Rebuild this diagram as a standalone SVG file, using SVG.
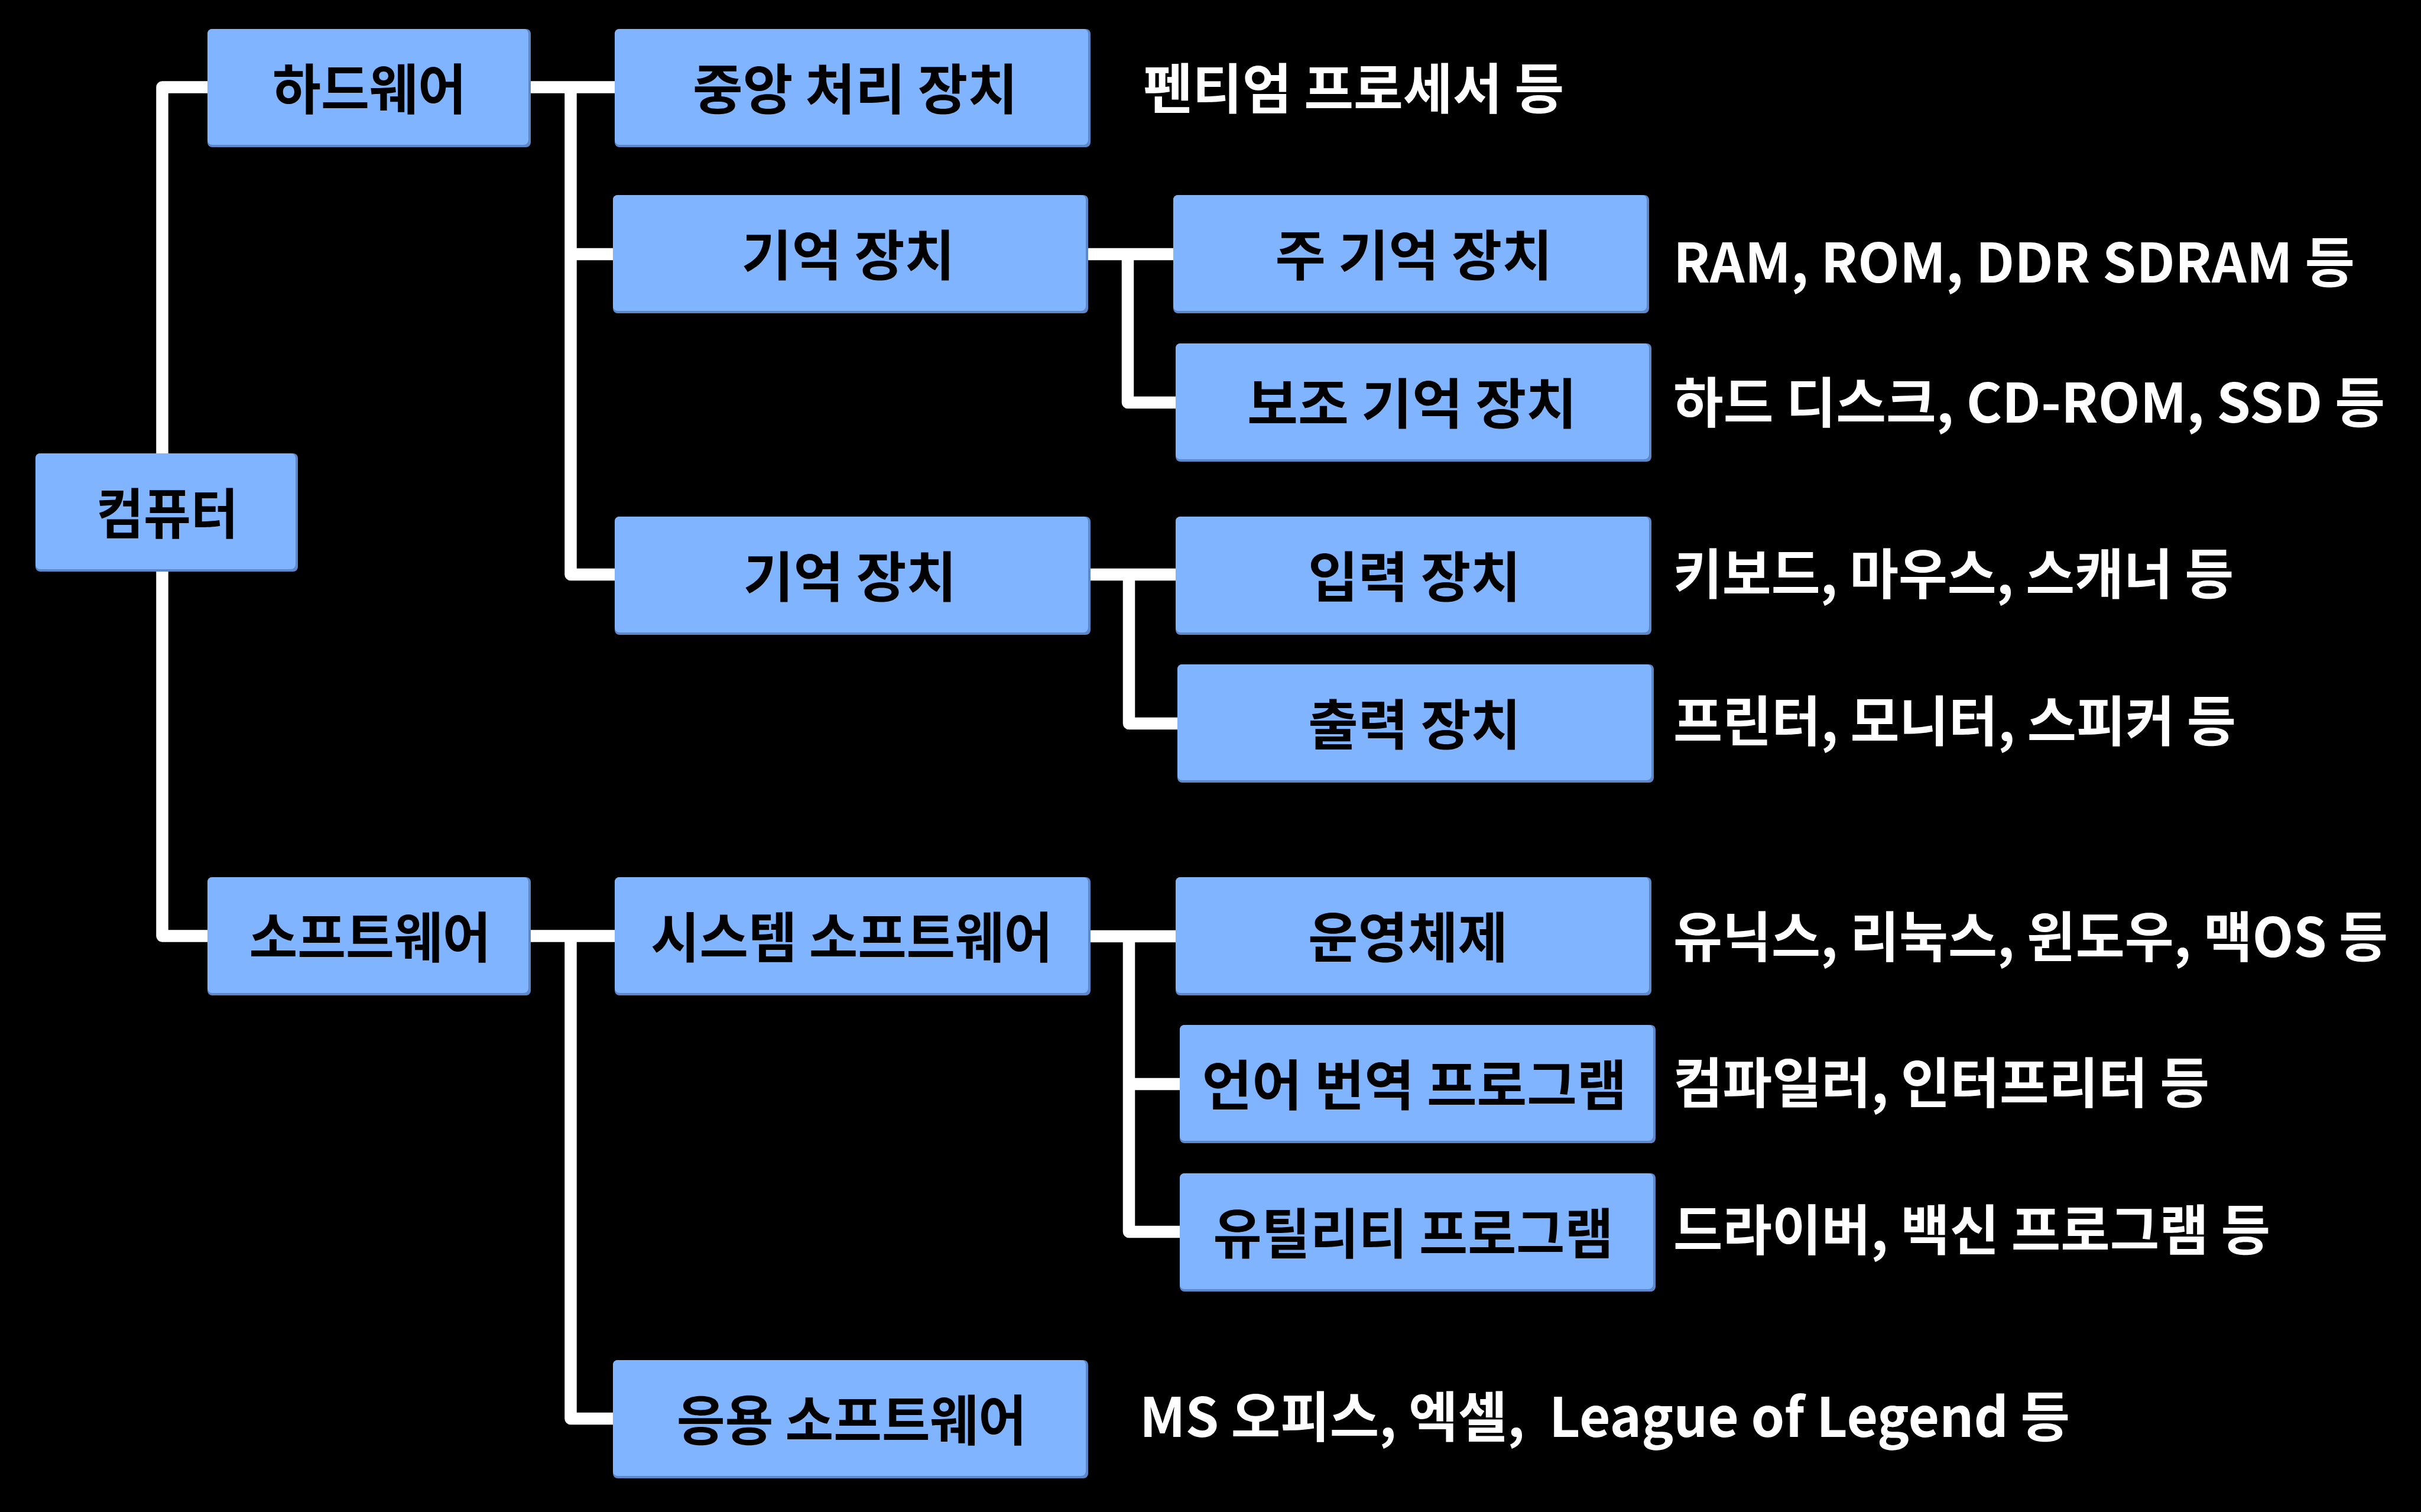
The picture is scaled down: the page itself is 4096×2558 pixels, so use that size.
<svg xmlns="http://www.w3.org/2000/svg" width="4096" height="2558" viewBox="0 0 4096 2558">
<style>
.bg{fill:#000000}
.base{fill:#5D87C6}
.face{fill:#80B4FF}
.conn{fill:none;stroke:#FFFFFF;stroke-width:20.5;stroke-linejoin:round;stroke-linecap:round}
.lbl{font-family:"Noto Sans CJK KR","Noto Sans",sans-serif;font-weight:700;font-size:92px;fill:#000000;text-anchor:middle}
.out{font-family:"Noto Sans CJK KR","Noto Sans",sans-serif;font-weight:700;font-size:92px;fill:#FFFFFF}
</style>
<rect class="bg" x="0" y="0" width="4096" height="2558"/>
<g id="connectors">
<path class="conn" d="M351 147.5 H274.5 V1583.5 H351"/>
<path class="conn" d="M898 147.5 H1040 M965.5 147.5 V972 H1040 M965.5 430 H1037"/>
<path class="conn" d="M1841 430 H1985 M1908 430 V681 H1989"/>
<path class="conn" d="M1845 972 H1989 M1910 972 V1224 H1992"/>
<path class="conn" d="M898 1583.5 H1040 M965.5 1583.5 V2400 H1037"/>
<path class="conn" d="M1845 1584 H1989 M1910 1584 V2084 H1996 M1910 1834 H1996"/>
</g>
<g id="n-computer"><rect class="base" x="60" y="767" width="444" height="200" rx="8"/><rect class="face" x="60" y="767" width="440" height="196" rx="8"/><text class="lbl" x="283" y="903" textLength="240" lengthAdjust="spacingAndGlyphs">컴퓨터</text></g>
<g id="n-hardware"><rect class="base" x="351" y="49" width="547" height="200" rx="8"/><rect class="face" x="351" y="49" width="543" height="196" rx="8"/><text class="lbl" x="625" y="185" textLength="328" lengthAdjust="spacingAndGlyphs">하드웨어</text></g>
<g id="n-software"><rect class="base" x="351" y="1484" width="547" height="200" rx="8"/><rect class="face" x="351" y="1484" width="543" height="196" rx="8"/><text class="lbl" x="626" y="1620" textLength="409" lengthAdjust="spacingAndGlyphs">소프트웨어</text></g>
<g id="n-cpu"><rect class="base" x="1040" y="49" width="805" height="200" rx="8"/><rect class="face" x="1040" y="49" width="801" height="196" rx="8"/><text class="lbl" x="1447" y="185" textLength="550" lengthAdjust="spacingAndGlyphs">중앙 처리 장치</text></g>
<g id="n-storage1"><rect class="base" x="1037" y="330" width="804" height="200" rx="8"/><rect class="face" x="1037" y="330" width="800" height="196" rx="8"/><text class="lbl" x="1435" y="466" textLength="361" lengthAdjust="spacingAndGlyphs">기억 장치</text></g>
<g id="n-storage2"><rect class="base" x="1040" y="874" width="805" height="200" rx="8"/><rect class="face" x="1040" y="874" width="801" height="196" rx="8"/><text class="lbl" x="1438" y="1010" textLength="361" lengthAdjust="spacingAndGlyphs">기억 장치</text></g>
<g id="n-syssw"><rect class="base" x="1040" y="1484" width="805" height="200" rx="8"/><rect class="face" x="1040" y="1484" width="801" height="196" rx="8"/><text class="lbl" x="1441" y="1620" textLength="680" lengthAdjust="spacingAndGlyphs">시스템 소프트웨어</text></g>
<g id="n-appsw"><rect class="base" x="1037" y="2301" width="804" height="200" rx="8"/><rect class="face" x="1037" y="2301" width="800" height="196" rx="8"/><text class="lbl" x="1441" y="2437" textLength="592" lengthAdjust="spacingAndGlyphs">응용 소프트웨어</text></g>
<g id="n-main"><rect class="base" x="1985" y="330" width="805" height="200" rx="8"/><rect class="face" x="1985" y="330" width="801" height="196" rx="8"/><text class="lbl" x="2392" y="466" textLength="469" lengthAdjust="spacingAndGlyphs">주 기억 장치</text></g>
<g id="n-aux"><rect class="base" x="1989" y="581" width="805" height="200" rx="8"/><rect class="face" x="1989" y="581" width="801" height="196" rx="8"/><text class="lbl" x="2389" y="717" textLength="558" lengthAdjust="spacingAndGlyphs">보조 기억 장치</text></g>
<g id="n-input"><rect class="base" x="1989" y="874" width="805" height="200" rx="8"/><rect class="face" x="1989" y="874" width="801" height="196" rx="8"/><text class="lbl" x="2393" y="1010" textLength="360" lengthAdjust="spacingAndGlyphs">입력 장치</text></g>
<g id="n-output"><rect class="base" x="1992" y="1124" width="806" height="200" rx="8"/><rect class="face" x="1992" y="1124" width="802" height="196" rx="8"/><text class="lbl" x="2393" y="1260" textLength="360" lengthAdjust="spacingAndGlyphs">출력 장치</text></g>
<g id="n-os"><rect class="base" x="1989" y="1484" width="805" height="200" rx="8"/><rect class="face" x="1989" y="1484" width="801" height="196" rx="8"/><text class="lbl" x="2382" y="1620" textLength="338" lengthAdjust="spacingAndGlyphs">운영체제</text></g>
<g id="n-lang"><rect class="base" x="1996" y="1734" width="805" height="200" rx="8"/><rect class="face" x="1996" y="1734" width="801" height="196" rx="8"/><text class="lbl" x="2393" y="1870" textLength="719" lengthAdjust="spacingAndGlyphs">언어 번역 프로그램</text></g>
<g id="n-util"><rect class="base" x="1996" y="1985" width="805" height="200" rx="8"/><rect class="face" x="1996" y="1985" width="801" height="196" rx="8"/><text class="lbl" x="2391" y="2121" textLength="677" lengthAdjust="spacingAndGlyphs">유틸리티 프로그램</text></g>
<g id="labels">
<text class="out" x="1934" y="184" textLength="712" lengthAdjust="spacingAndGlyphs">펜티엄 프로세서 등</text>
<text class="out" x="2831" y="478" textLength="1153" lengthAdjust="spacingAndGlyphs">RAM, ROM, DDR SDRAM 등</text>
<text class="out" x="2831" y="715" textLength="1204" lengthAdjust="spacingAndGlyphs">하드 디스크, CD-ROM, SSD 등</text>
<text class="out" x="2831" y="1005" textLength="948" lengthAdjust="spacingAndGlyphs">키보드, 마우스, 스캐너 등</text>
<text class="out" x="2831" y="1254" textLength="952" lengthAdjust="spacingAndGlyphs">프린터, 모니터, 스피커 등</text>
<text class="out" x="2831" y="1619" textLength="1209" lengthAdjust="spacingAndGlyphs">유닉스, 리눅스, 윈도우, 맥OS 등</text>
<text class="out" x="2831" y="1866" textLength="907" lengthAdjust="spacingAndGlyphs">컴파일러, 인터프리터 등</text>
<text class="out" x="2831" y="2115" textLength="1010" lengthAdjust="spacingAndGlyphs">드라이버, 백신 프로그램 등</text>
<text class="out" x="1928" y="2431" textLength="1574" lengthAdjust="spacingAndGlyphs" xml:space="preserve">MS 오피스, 엑셀,  League of Legend 등</text>
</g>
</svg>
